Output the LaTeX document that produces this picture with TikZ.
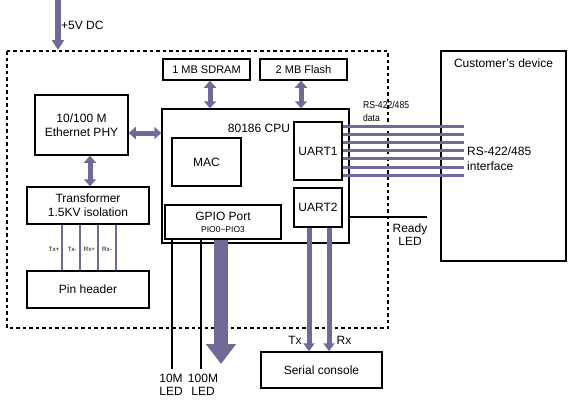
\documentclass[tikz,border=0pt]{standalone}
\usepackage{fontspec}
\setmainfont{Liberation Sans}
\usetikzlibrary{arrows.meta}
\definecolor{bus}{RGB}{112,106,152}
\begin{document}
\begin{tikzpicture}[x=1pt,y=-1pt,
  box/.style={draw=black,line width=1.5pt,inner sep=0pt,font=\fontsize{12}{14}\selectfont,align=center},
  lbl/.style={inner sep=0pt,font=\fontsize{12}{13}\selectfont,align=center},
  dbl/.style={draw=bus,line width=5pt,{Triangle[width=12pt,length=7pt]}-{Triangle[width=12pt,length=7pt]},shorten <=0pt,shorten >=0pt},
  sgl/.style={draw=bus,line width=5pt,-{Triangle[width=11pt,length=8pt]}},
  busline/.style={draw=bus,line width=3pt},
  thin/.style={draw=bus,line width=2pt},
  blk/.style={draw=black,line width=2pt}]
\useasboundingbox (0,0) rectangle (568,400);
% dotted board outline
\draw[line width=2pt,dash pattern=on 3.5pt off 3pt] (7,51) rectangle (388,328);
% boxes
\node[box,minimum width=87pt,minimum height=21pt,font=\fontsize{11}{13}\selectfont] (sdram) at (206.5,69.5) {1 MB SDRAM};
\node[box,minimum width=87pt,minimum height=21pt,font=\fontsize{11}{13}\selectfont] (flash) at (303.5,69.5) {2 MB Flash};
\node[box,minimum width=187pt,minimum height=134pt] (cpu) at (255.5,176) {};
\node[lbl] (cputxt) at (259,128) {80186 CPU};
\node[box,minimum width=69pt,minimum height=48pt] (mac) at (206.5,162) {MAC};
\node[box,minimum width=116pt,minimum height=34pt] (gpio) at (223,222) {};
\node[lbl] (gpiot) at (223,216) {GPIO Port};
\node[lbl,font=\fontsize{8.5}{10}\selectfont] (gpiop) at (223,229.5) {PIO0\textasciitilde PIO3};
\node[box,minimum width=48pt,minimum height=58pt] (uart1) at (318,151) {UART1};
\node[box,minimum width=48pt,minimum height=39pt] (uart2) at (318,207.5) {UART2};
\node[box,minimum width=93pt,minimum height=60pt] (phy) at (81.5,125) {10/100 M\\Ethernet PHY};
\node[box,minimum width=122pt,minimum height=37pt] (trans) at (88,205.5) {Transformer\\1.5KV isolation};
\node[box,minimum width=122pt,minimum height=37pt] (pin) at (88,289.5) {Pin header};
\node[box,minimum width=125pt,minimum height=210pt] (cust) at (503.5,156) {};
\node[lbl] (custt) at (503.5,63) {Customer's device};
\node[box,minimum width=121pt,minimum height=36pt] (serial) at (321.5,370) {Serial console};
% power
\coordinate (pwr) at (58,0);
\draw[draw=bus,line width=6pt,-{Triangle[width=12pt,length=10pt]}] (pwr) -- (58,50);
\node[lbl,anchor=west] (pwrt) at (61,25) {+5V DC};
% double arrows
\draw[dbl] (sdram.south -| 210,0) -- (cpu.north -| 210,0);
\draw[dbl] (flash.south -| 301,0) -- (cpu.north -| 301,0);
\draw[dbl] (phy.east |- 0,133) -- (cpu.west |- 0,133);
\draw[dbl] (phy.south -| 90,0) -- (trans.north -| 90,0);
% transformer to pin header
\foreach \x in {62,80,98,116} \draw[thin] (trans.south -| \x,0) -- (pin.north -| \x,0);
\begin{scope}[every node/.style={inner sep=0pt,font=\fontsize{6.2}{7}\selectfont}]
\node (l1) at (54,249) {Tx+};
\node (l2) at (72,249) {Tx-};
\node (l3) at (89.5,249) {Rx+};
\node (l4) at (107,249) {Rx-};
\end{scope}
% RS-422/485 lines
\foreach \y in {126,134,142,150,158,167,175} \draw[busline] (uart1.east |- 0,\y) -- (464,\y);
\node[inner sep=0pt,anchor=west,align=left,font=\fontsize{10}{13}\selectfont,xscale=0.86] (rsd) at (363,111.5) {RS-422/485\\data};
\node[inner sep=0pt,anchor=west,align=left,font=\fontsize{12}{15}\selectfont] (rsi) at (467,159) {RS-422/485\\interface};
% Ready LED
\coordinate (rdy) at (427,217);
\draw[blk] (cpu.east |- rdy) -- (rdy);
\node[lbl] (rdyt) at (410,235) {Ready\\LED};
% UART2 to serial console
\draw[sgl] (uart2.south -| 309,0) -- (serial.north -| 309,0);
\draw[sgl] (uart2.south -| 329,0) -- (serial.north -| 329,0);
\node[lbl] (txl) at (295,340) {Tx};
\node[lbl] (rxl) at (344,340) {Rx};
% LEDs
\coordinate (led10) at (172,369);
\coordinate (led100) at (201,369);
\draw[blk] (gpio.south -| led10) -- (led10);
\draw[blk] (gpio.south -| led100) -- (led100);
\node[lbl] (l10t) at (171,385) {10M\\LED};
\node[lbl] (l100t) at (203,385) {100M\\LED};
% GPIO big arrow
\coordinate (gpa) at (221,364);
\draw[draw=bus,line width=14pt,-{Triangle[width=29pt,length=20pt]}] (gpio.south -| gpa) -- (gpa);
\end{tikzpicture}
\end{document}
